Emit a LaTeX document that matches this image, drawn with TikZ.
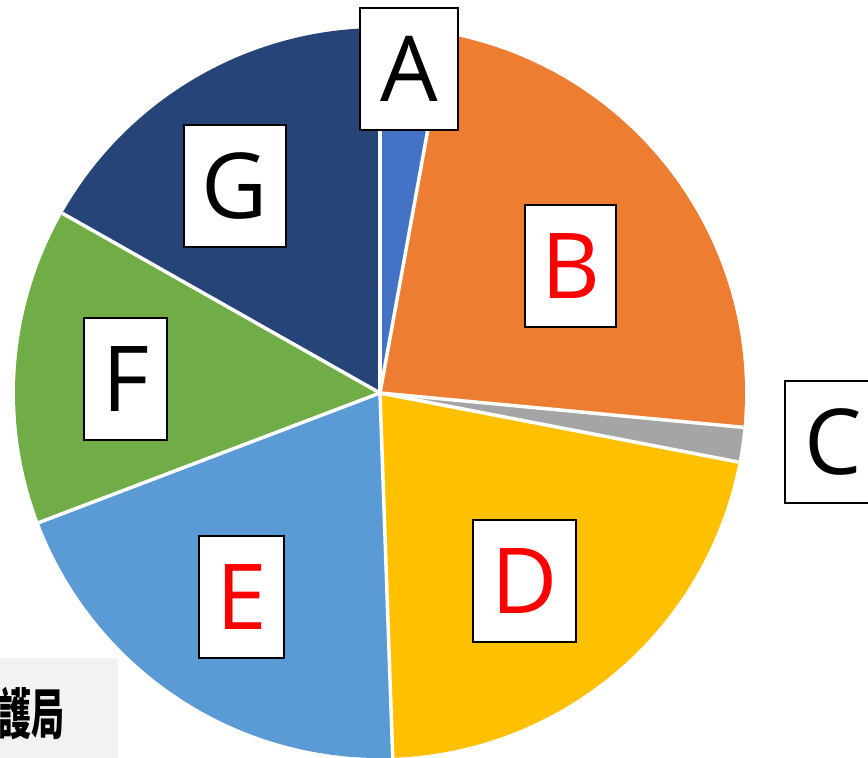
\documentclass[tikz,border=0pt]{standalone}
\usepackage{fontspec}
\setmainfont{Open Sans}
\newfontfamily\cjk{Noto Sans CJK TC}
\definecolor{cA}{HTML}{4472C4}
\definecolor{cB}{HTML}{ED7D31}
\definecolor{cC}{HTML}{A5A5A5}
\definecolor{cD}{HTML}{FFC000}
\definecolor{cE}{HTML}{5B9BD5}
\definecolor{cF}{HTML}{70AD47}
\definecolor{cG}{HTML}{264478}
\definecolor{panel}{HTML}{F2F2F2}
\begin{document}
\begin{tikzpicture}[x=1pt,y=1pt,
  sep/.style={white,line width=3.5pt},
  lbl/.style={draw=black,fill=white,line width=1.6pt,inner sep=0pt,minimum height=122pt,font=\fontsize{91}{100}\selectfont},
  redlbl/.style={lbl,text=red}]
\useasboundingbox (0,0) rectangle (868,-758);
\coordinate (c) at (380,-393);
\def\R{365}
\newcommand\pieslice[3]{\fill[#3] (c) -- ++(#1:\R) arc[start angle=#1,end angle=#2,radius=\R] -- cycle;}
\pieslice{90}{79.7}{cA}
\pieslice{79.7}{-5.4}{cB}
\pieslice{-5.4}{-10.9}{cC}
\pieslice{-10.9}{-88}{cD}
\pieslice{-88}{-159.2}{cE}
\pieslice{-159.2}{-209.5}{cF}
\pieslice{-209.5}{-270}{cG}
\foreach \a in {90,79.7,-5.4,-10.9,-88,-159.2,-209.5}
  \draw[sep] (c) -- ++(\a:\R);
% labels
\node[lbl,minimum width=98pt] (A) at (409,-69) {A};
\node[redlbl,minimum width=91pt] (B) at (570.5,-266) {B};
\node[lbl,minimum width=96pt] (C) at (833,-442) {C};
\node[redlbl,minimum width=103pt] (D) at (524.5,-581) {D};
\node[redlbl,minimum width=85pt] (E) at (241.5,-597) {E};
\node[lbl,minimum width=83pt] (F) at (125.5,-379) {F};
\node[lbl,minimum width=102pt] (G) at (235,-186) {G};
% corner panel
\fill[panel] (0,-658) rectangle (118,-758);
\begin{scope}
\clip (0,-658) rectangle (118,-758);
\node[anchor=east,inner sep=0pt,xscale=0.6,font=\cjk\bfseries\fontsize{55}{60}\selectfont] (T) at (65,-714) {護局};
\end{scope}
\end{tikzpicture}
\end{document}
